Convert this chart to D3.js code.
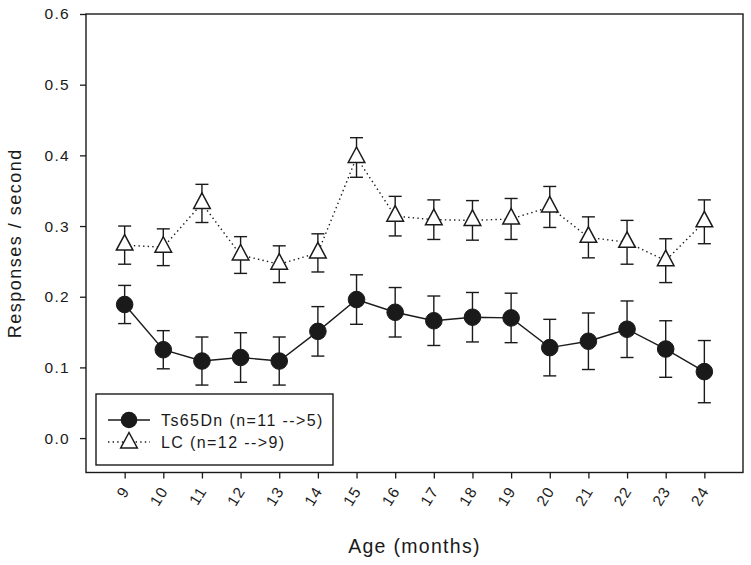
<!DOCTYPE html>
<html>
<head>
<meta charset="utf-8">
<script src="https://cdn.jsdelivr.net/npm/d3@7"></script>
<style>
  body { margin: 0; background: #fff; }
  text { font-family: "Liberation Sans", Arial, Helvetica, sans-serif; fill: #1a1a1a; }
</style>
</head>
<body>
<svg id="chart" width="751" height="565"></svg>
<script>
const ages = [9, 10, 11, 12, 13, 14, 15, 16, 17, 18, 19, 20, 21, 22, 23, 24];
const ts65dnMean = [0.189, 0.125, 0.109, 0.114, 0.109, 0.151, 0.196, 0.178, 0.166, 0.171, 0.170, 0.128, 0.137, 0.154, 0.126, 0.094];
const ts65dnSE   = [0.027, 0.027, 0.034, 0.035, 0.034, 0.035, 0.035, 0.035, 0.035, 0.035, 0.035, 0.040, 0.040, 0.040, 0.040, 0.044];
const lcMean = [0.273, 0.270, 0.332, 0.259, 0.246, 0.262, 0.397, 0.314, 0.309, 0.308, 0.310, 0.327, 0.284, 0.277, 0.251, 0.306];
const lcSE   = [0.027, 0.026, 0.027, 0.026, 0.026, 0.027, 0.028, 0.028, 0.028, 0.028, 0.029, 0.029, 0.029, 0.031, 0.031, 0.031];
const yTicks = [0.0, 0.1, 0.2, 0.3, 0.4, 0.5, 0.6];
const seriesNames = ["Ts65Dn (n=11 -->5)", "LC (n=12 -->9)"];
const xTitle = "Age (months)";
const yTitle = "Responses / second";

const svg = d3.select("#chart");
const mLeft = 86, mRight = 743, mTop = 14, mBottom = 472.5;
const x = d3.scaleLinear().domain([8, 25]).range([mLeft, mRight]);
const y = d3.scaleLinear().domain([-0.0487, 0.6]).range([mBottom, mTop]);

const ink = "#1a1a1a";

// frame
svg.append("rect").attr("x", mLeft).attr("y", mTop)
  .attr("width", mRight - mLeft).attr("height", mBottom - mTop)
  .attr("fill", "none").attr("stroke", ink).attr("stroke-width", 1.4);

// y axis
const yAxis = d3.axisLeft(y).tickValues(yTicks).tickFormat(d3.format(".1f")).tickSize(6).tickPadding(10);
const gy = svg.append("g").attr("transform", `translate(${mLeft},0)`).call(yAxis);
gy.select(".domain").remove();
gy.selectAll(".tick line").attr("stroke", ink).attr("stroke-width", 1.3);
gy.selectAll(".tick text").attr("font-size", 15.5).attr("letter-spacing", "1.3px")
  .attr("x", -16).attr("fill", ink).style("font-family", "'Liberation Sans', Arial, sans-serif");

// x axis
const xAxis = d3.axisBottom(x).tickValues(ages).tickFormat(d3.format("d")).tickSize(6);
const gx = svg.append("g").attr("transform", `translate(0,${mBottom})`).call(xAxis);
gx.select(".domain").remove();
gx.selectAll(".tick line").attr("stroke", ink).attr("stroke-width", 1.3);
gx.selectAll(".tick text")
  .attr("font-size", 15.5).attr("letter-spacing", "1.3px").attr("fill", ink)
  .style("font-family", "'Liberation Sans', Arial, sans-serif")
  .attr("text-anchor", "end").attr("dy", null).attr("y", null).attr("x", null)
  .attr("transform", "translate(5,18) rotate(-58)");

// titles
svg.append("text").attr("x", (mLeft + mRight) / 2).attr("y", 553)
  .attr("text-anchor", "middle").attr("font-size", 19.5).attr("letter-spacing", "1.3px")
  .text(xTitle);
svg.append("text").attr("transform", `translate(21,${(mTop + mBottom) / 2}) rotate(-90)`)
  .attr("text-anchor", "middle").attr("font-size", 18).attr("letter-spacing", "1.5px")
  .text(yTitle);

const triPath = "M0,-10.5L8.3,5L-8.3,5Z";

function drawSeries(mean, se, dashed, marker) {
  const data = ages.map((a, i) => ({ a, m: mean[i], s: se[i] }));
  const g = svg.append("g");
  const cap = 6.5;
  const eb = g.selectAll(".eb").data(data).enter().append("g");
  eb.append("line").attr("x1", d => x(d.a)).attr("x2", d => x(d.a))
    .attr("y1", d => y(d.m + d.s)).attr("y2", d => y(d.m - d.s))
    .attr("stroke", ink).attr("stroke-width", 1.4);
  eb.append("line").attr("x1", d => x(d.a) - cap).attr("x2", d => x(d.a) + cap)
    .attr("y1", d => y(d.m + d.s)).attr("y2", d => y(d.m + d.s))
    .attr("stroke", ink).attr("stroke-width", 1.4);
  eb.append("line").attr("x1", d => x(d.a) - cap).attr("x2", d => x(d.a) + cap)
    .attr("y1", d => y(d.m - d.s)).attr("y2", d => y(d.m - d.s))
    .attr("stroke", ink).attr("stroke-width", 1.4);
  const line = d3.line().x(d => x(d.a)).y(d => y(d.m));
  const p = g.append("path").datum(data).attr("d", line).attr("fill", "none")
    .attr("stroke", ink).attr("stroke-width", 1.4);
  if (dashed) p.attr("stroke-dasharray", "1.4,3.2");
  if (marker === "circle") {
    g.selectAll(".mk").data(data).enter().append("circle")
      .attr("cx", d => x(d.a)).attr("cy", d => y(d.m)).attr("r", 8.3)
      .attr("fill", ink).attr("stroke", ink).attr("stroke-width", 1);
  } else {
    g.selectAll(".mk").data(data).enter().append("path")
      .attr("d", triPath).attr("transform", d => `translate(${x(d.a)},${y(d.m)})`)
      .attr("fill", "#fff").attr("stroke", ink).attr("stroke-width", 1.5);
  }
}

drawSeries(lcMean, lcSE, true, "triangle");
drawSeries(ts65dnMean, ts65dnSE, false, "circle");

// legend
const lg = svg.append("g");
lg.append("rect").attr("x", 96).attr("y", 394).attr("width", 237).attr("height", 71)
  .attr("fill", "#fff").attr("stroke", ink).attr("stroke-width", 1.4);
const rows = [420, 442];
lg.append("line").attr("x1", 108).attr("x2", 150).attr("y1", rows[0]).attr("y2", rows[0])
  .attr("stroke", ink).attr("stroke-width", 1.4);
lg.append("circle").attr("cx", 129).attr("cy", rows[0]).attr("r", 8.3).attr("fill", ink);
lg.append("line").attr("x1", 108).attr("x2", 150).attr("y1", rows[1]).attr("y2", rows[1])
  .attr("stroke", ink).attr("stroke-width", 1.4).attr("stroke-dasharray", "1.4,3.2");
lg.append("path").attr("d", triPath).attr("transform", `translate(129,${rows[1] + 1})`)
  .attr("fill", "#fff").attr("stroke", ink).attr("stroke-width", 1.5);
seriesNames.forEach((n, i) => {
  lg.append("text").attr("x", 161).attr("y", rows[i] + 5.5)
    .attr("font-size", 16).attr("letter-spacing", "1.4px").text(n);
});
</script>
</body>
</html>
